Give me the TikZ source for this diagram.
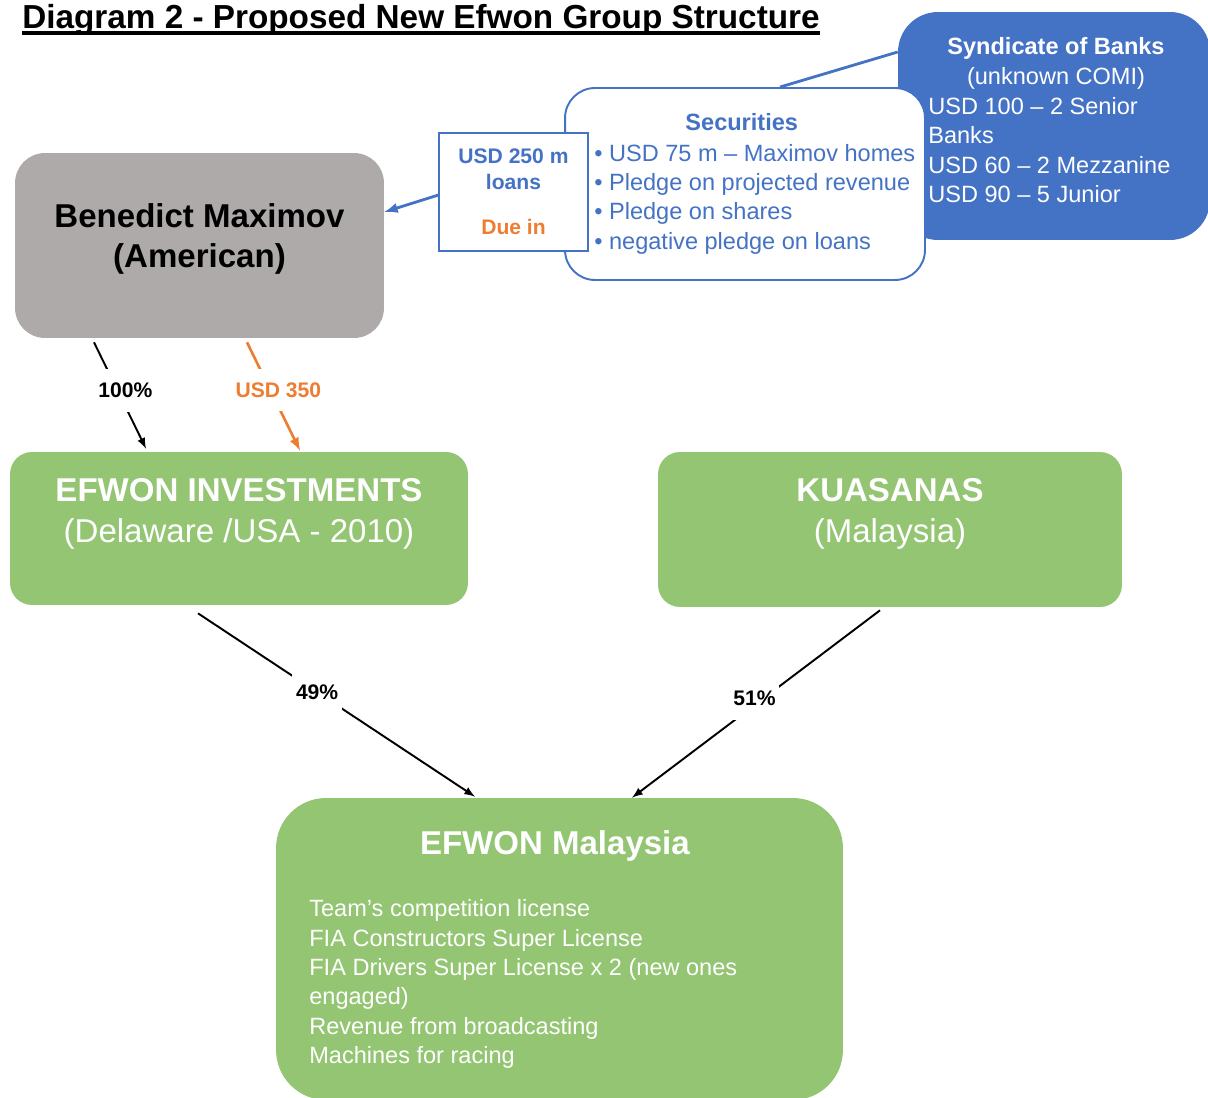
\documentclass[tikz,border=0pt]{standalone}
\usepackage{fontspec}
\setmainfont{Liberation Sans}
\usetikzlibrary{positioning,calc}
\definecolor{bankblue}{RGB}{68,114,196}
\definecolor{boxgreen}{RGB}{147,197,114}
\definecolor{boxgray}{RGB}{174,170,170}
\definecolor{usdorange}{RGB}{237,125,49}
\newsavebox{\titlebox}
\newcommand{\titleul}[1]{\sbox{\titlebox}{#1}\rlap{\usebox{\titlebox}}\rule[-3.6pt]{\wd\titlebox}{2.2pt}}

\begin{document}
\begin{tikzpicture}
[
    x = 0.02cm,
    y = -0.02cm,
    textnode/.style = {inner sep=0pt,
                       align=center,
                       font=\fontsize{18.8}{23.5}\selectfont},
    listnode/.style = {inner sep=0pt,
                       align=left,
                       anchor=west,
                       font=\fontsize{13.4}{16.7}\selectfont},
    greenbox/.style = {fill=boxgreen,
                       rounded corners=0.44cm},
    pctlabel/.style = {fill=white,
                       inner xsep=2pt,
                       inner ysep=0.28cm,
                       font=\fontsize{12}{14}\selectfont\bfseries},
    arr/.style      = {line width=1.1pt,
                       -latex}
]
\useasboundingbox (0,0) rectangle (1208,1098);

\node (title) [anchor=base west, inner sep=0pt,
               font=\fontsize{18.95}{22}\selectfont\bfseries] at (22,28.5) {
\titleul{Diagram 2 - Proposed New Efwon Group Structure}
};

% banks and securities
\node (syn) [fill=bankblue, rounded corners=0.8cm,
             minimum width=6.24cm, minimum height=4.56cm] at (1054,126) {};
\node (synhead) [textnode, text=white,
                 font=\fontsize{13.4}{17}\selectfont] at (1056,63) {
\textbf{Syndicate of Banks}\\(unknown COMI)
};
\node (synlist) [listnode, text=white] at (928,150) {
USD 100 -- 2 Senior\\Banks\\USD 60 -- 2 Mezzanine\\USD 90 -- 5 Junior
};

\node (sec) [draw=bankblue, line width=1.1pt, fill=white, rounded corners=0.6cm,
             minimum width=7.2cm, minimum height=3.84cm] at (745,184) {};
\node (sectitle) [textnode, text=bankblue,
                  font=\fontsize{13.4}{16.7}\selectfont\bfseries] at (745,122) {
Securities
};
\node (seclist) [listnode, text=bankblue] at (594,199) {
\textbullet\ USD 75 m -- Maximov homes\\
\textbullet\ Pledge on projected revenue\\
\textbullet\ Pledge on shares\\
\textbullet\ negative pledge on loans
};

\draw [bankblue, line width=1.6pt] ($(syn.west)+(0,-74)$) -- ($(sec.north)+(35,0)$);

\node (loans) [draw=bankblue, line width=0.6pt, fill=white, inner sep=0pt,
               minimum width=2.98cm, minimum height=2.36cm, align=center,
               text=bankblue, font=\fontsize{12}{14.7}\selectfont\bfseries] at (513.5,192) {
USD 250 m\\loans\\[10.8pt]\textcolor{usdorange}{Due in}
};

% owner
\node (ben) [fill=boxgray, rounded corners=0.6cm,
             minimum width=7.38cm, minimum height=3.7cm] at (199.5,245.5) {};
\node (bentext) [textnode, font=\fontsize{18.8}{23.2}\selectfont\bfseries] at (199.5,239) {
Benedict Maximov\\(American)
};

\draw [bankblue, line width=1.6pt, -latex] ($(loans.west)+(0,3)$) -- ($(ben.east)+(0,-33.5)$);

% companies
\node (inv) [greenbox, minimum width=9.16cm, minimum height=3.06cm] at (239,528.5) {};
\node (invtext) [textnode, text=white] at (239,514) {
\textbf{EFWON INVESTMENTS}\\(Delaware /USA - 2010)
};

\node (kua) [greenbox, minimum width=9.28cm, minimum height=3.1cm] at (890,529.5) {};
\node (kuatext) [textnode, text=white] at (890,514) {
\textbf{KUASANAS}\\(Malaysia)
};

\node (mal) [greenbox, rounded corners=1cm,
             minimum width=11.34cm, minimum height=6.04cm] at (559.5,949) {};
\node (maltitle) [textnode, text=white,
                  font=\fontsize{18.8}{23.5}\selectfont\bfseries] at (559.5,846) {
EFWON Malaysia
};
\node (mallist) [listnode, text=white] at (309,984) {
Team's competition license\\
FIA Constructors Super License\\
FIA Drivers Super License x 2 (new ones\\
engaged)\\
Revenue from broadcasting\\
Machines for racing
};

\draw[arr] ($(ben.south)+(-105.5,4)$) -- node[pctlabel, pos=0.45, xshift=0.16cm] {100\%} ($(inv.north)+(-93,-3)$);
\draw[arr, usdorange, line width=1.5pt] ($(ben.south)+(47.5,4)$) -- node[pctlabel, pos=0.44, xshift=0.16cm] {USD 350} ($(inv.north)+(61,-1)$);
\draw[arr] ($(inv.south)+(-41,8)$) -- node[pctlabel, pos=0.43] {49\%} ($(mal.north)+(-84.5,-1)$);
\draw[arr] ($(kua.south)+(-10,3)$) -- node[pctlabel, pos=0.47, xshift=-0.18cm] {51\%} ($(mal.north)+(72.5,0)$);

\end{tikzpicture}
\end{document}
